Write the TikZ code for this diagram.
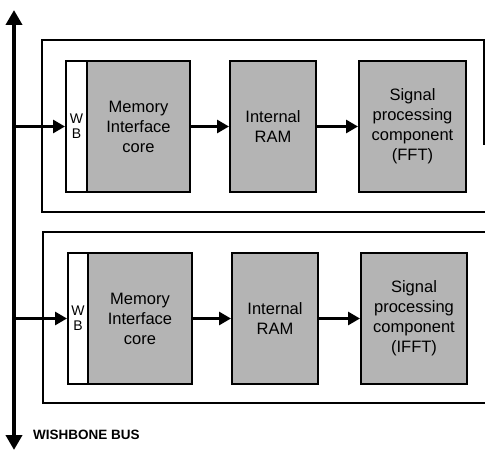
\documentclass[tikz,border=0pt]{standalone}
\usepackage{fontspec}
\setmainfont{Liberation Sans}
\usetikzlibrary{arrows.meta}
\definecolor{boxgray}{RGB}{180,180,180}
\begin{document}
\begin{tikzpicture}[x=1pt,y=-1pt,
  outerbox/.style={draw, line width=1.2pt},
  wbbox/.style={draw, line width=2pt, fill=white, inner sep=0pt, align=center,
    minimum height=131pt, font=\fontsize{14}{15}\selectfont},
  corebox/.style={draw, line width=2pt, fill=boxgray, inner sep=0pt, align=center,
    minimum height=131pt, font=\fontsize{16.5}{20}\selectfont},
  conn/.style={line width=2.8pt, -{Triangle[length=12pt,width=13pt]}},
  bus/.style={line width=4pt, {Triangle[length=15pt,width=16pt]}-{Triangle[length=15pt,width=16pt]}}]
\useasboundingbox (0,0) rectangle (485,452);
% outer frames
\draw[outerbox] (486,40) -- (42,40) -- (42,212) -- (486,212);
\draw[outerbox] (484,40) -- (484,145);
\draw[outerbox] (486,232) -- (43,232) -- (43,403) -- (486,403);
% top row
\node[wbbox, minimum width=21pt] (wb1) at (76.5,126.5) {W\\B};
\node[corebox, minimum width=103pt] (core1) at (138.5,126.5) {Memory\\Interface\\core};
\node[corebox, minimum width=86pt] (ram1) at (273,126.5) {Internal\\RAM};
\node[corebox, minimum width=107pt] (sp1) at (412.5,126.5) {Signal\\processing\\component\\(FFT)};
% bottom row
\node[wbbox, minimum width=20pt] (wb2) at (78,318.5) {W\\B};
\node[corebox, minimum width=104pt] (core2) at (140,318.5) {Memory\\Interface\\core};
\node[corebox, minimum width=86pt] (ram2) at (275,318.5) {Internal\\RAM};
\node[corebox, minimum width=106pt] (sp2) at (414,318.5) {Signal\\processing\\component\\(IFFT)};
% bus
\coordinate (bt) at (14,10);
\coordinate (bb) at (14,450);
\draw[bus] (bt) -- (bb);
\coordinate (j1) at (14,126.5);
\coordinate (j2) at (14,318.5);
\node[anchor=west, inner sep=0pt, font=\bfseries\fontsize{13.5}{15}\selectfont] (lbl) at (33,435) {WISHBONE BUS};
% connectors
\draw[conn] (j1) -- (wb1.west);
\draw[conn] (core1) -- (ram1);
\draw[conn] (ram1) -- (sp1);
\draw[conn] (j2) -- (wb2.west);
\draw[conn] (core2) -- (ram2);
\draw[conn] (ram2) -- (sp2);
\end{tikzpicture}
\end{document}
